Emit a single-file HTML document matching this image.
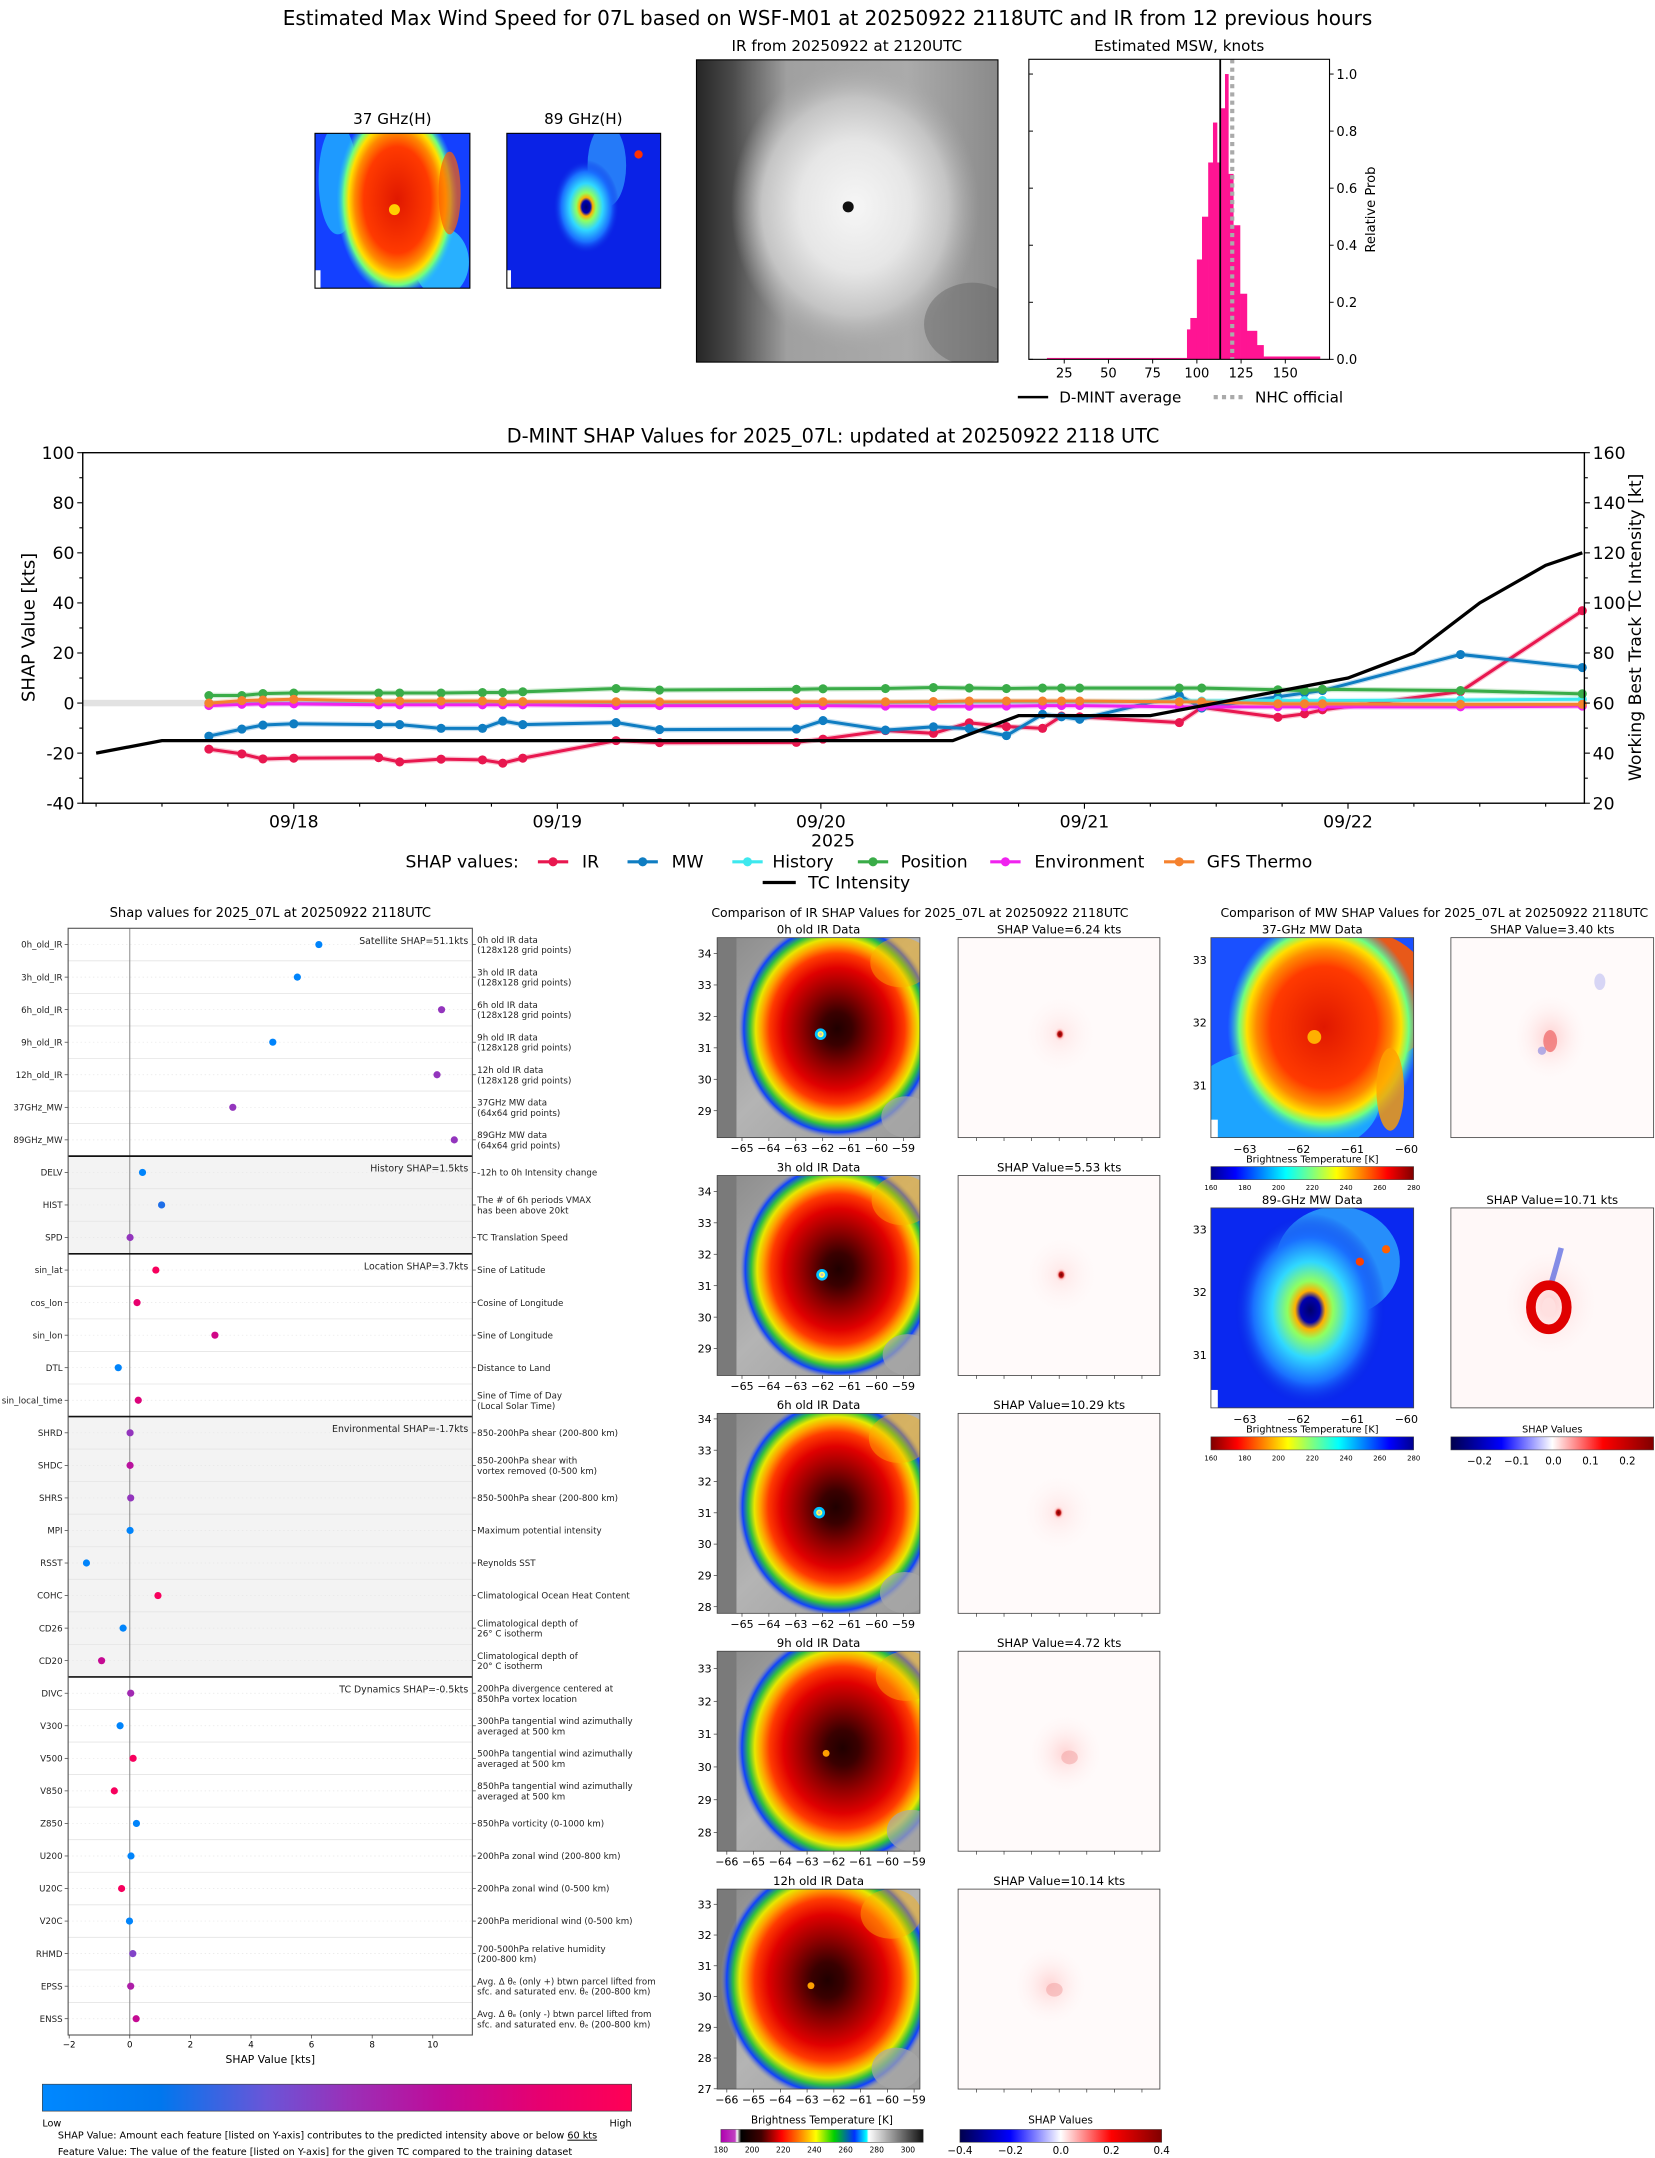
<!DOCTYPE html>
<html><head><meta charset="utf-8">
<style>
html,body{margin:0;padding:0;background:#fff;}
svg{display:block;font-family:"DejaVu Sans","Liberation Sans",sans-serif;}
</style></head>
<body>
<svg id="fig" width="1655" height="2158" viewBox="0 0 1200 1565" preserveAspectRatio="none" xmlns="http://www.w3.org/2000/svg">
<defs>
  <linearGradient id="irTopBg" x1="0" x2="1" y1="0" y2="0">
    <stop offset="0" stop-color="#262626"/><stop offset="0.12" stop-color="#4a4a4a"/><stop offset="0.3" stop-color="#a0a0a0"/><stop offset="0.7" stop-color="#ababab"/><stop offset="1" stop-color="#8a8a8a"/>
  </linearGradient>
  <radialGradient id="irTopCore">
    <stop offset="0" stop-color="#f6f6f6"/><stop offset="0.45" stop-color="#e6e6e6"/><stop offset="0.75" stop-color="#c4c4c4"/><stop offset="1" stop-color="#a8a8a8" stop-opacity="0"/>
  </radialGradient>
  <radialGradient id="mw37Core">
    <stop offset="0" stop-color="#e01800"/><stop offset="0.55" stop-color="#ff3a00"/><stop offset="0.7" stop-color="#ff8a00"/><stop offset="0.8" stop-color="#ffe000"/><stop offset="0.88" stop-color="#70ff80"/><stop offset="1" stop-color="#20c0ff" stop-opacity="0"/>
  </radialGradient>
  <radialGradient id="mw89Core">
    <stop offset="0" stop-color="#00006a"/><stop offset="0.13" stop-color="#0000b0"/><stop offset="0.2" stop-color="#ffb000"/><stop offset="0.3" stop-color="#90ff60"/><stop offset="0.5" stop-color="#30d8ff"/><stop offset="0.75" stop-color="#1a70ff"/><stop offset="1" stop-color="#0a20e0" stop-opacity="0"/>
  </radialGradient>
  <radialGradient id="irJet">
    <stop offset="0" stop-color="#200000"/><stop offset="0.15" stop-color="#3a0000"/><stop offset="0.35" stop-color="#900000"/><stop offset="0.55" stop-color="#e00000"/><stop offset="0.68" stop-color="#ff3a00"/><stop offset="0.76" stop-color="#ffa000"/><stop offset="0.82" stop-color="#e8e800"/><stop offset="0.88" stop-color="#30c040"/><stop offset="0.94" stop-color="#1040ff"/><stop offset="1" stop-color="#a0a0a0" stop-opacity="0"/>
  </radialGradient>
  <linearGradient id="irBg" x1="0" x2="1" y1="0" y2="1">
    <stop offset="0" stop-color="#8a8a8a"/><stop offset="0.5" stop-color="#b4b4b4"/><stop offset="1" stop-color="#9a9a9a"/>
  </linearGradient>
  <radialGradient id="shapDot">
    <stop offset="0" stop-color="#700000"/><stop offset="0.35" stop-color="#c01010"/><stop offset="0.6" stop-color="#ffb0b0" stop-opacity="0.5"/><stop offset="1" stop-color="#ffffff" stop-opacity="0"/>
  </radialGradient>
  <radialGradient id="shapHalo">
    <stop offset="0" stop-color="#ffd0d0"/><stop offset="1" stop-color="#ffffff" stop-opacity="0"/>
  </radialGradient>
  <linearGradient id="jetCbar" x1="0" x2="1">
    <stop offset="0" stop-color="#00008f"/><stop offset="0.12" stop-color="#0000ff"/><stop offset="0.37" stop-color="#00ffff"/><stop offset="0.5" stop-color="#7fff7f"/><stop offset="0.62" stop-color="#ffff00"/><stop offset="0.87" stop-color="#ff0000"/><stop offset="1" stop-color="#7f0000"/>
  </linearGradient>
  <linearGradient id="jetRCbar" x1="1" x2="0">
    <stop offset="0" stop-color="#00008f"/><stop offset="0.12" stop-color="#0000ff"/><stop offset="0.37" stop-color="#00ffff"/><stop offset="0.5" stop-color="#7fff7f"/><stop offset="0.62" stop-color="#ffff00"/><stop offset="0.87" stop-color="#ff0000"/><stop offset="1" stop-color="#7f0000"/>
  </linearGradient>
  <linearGradient id="bwrCbar" x1="0" x2="1">
    <stop offset="0" stop-color="#00004c"/><stop offset="0.25" stop-color="#0000ff"/><stop offset="0.5" stop-color="#ffffff"/><stop offset="0.75" stop-color="#ff0000"/><stop offset="1" stop-color="#800000"/>
  </linearGradient>
  <linearGradient id="irCbar" x1="0" x2="1">
    <stop offset="0" stop-color="#b000b0"/><stop offset="0.07" stop-color="#c040c0"/><stop offset="0.08" stop-color="#ffffff"/><stop offset="0.1" stop-color="#000000"/><stop offset="0.2" stop-color="#400000"/><stop offset="0.3" stop-color="#ff0000"/><stop offset="0.4" stop-color="#ff9000"/><stop offset="0.47" stop-color="#ffff00"/><stop offset="0.56" stop-color="#00d000"/><stop offset="0.66" stop-color="#0030ff"/><stop offset="0.72" stop-color="#00ffff"/><stop offset="0.73" stop-color="#ffffff"/><stop offset="1" stop-color="#101010"/>
  </linearGradient>
  <linearGradient id="featCbar" x1="0" x2="1">
    <stop offset="0" stop-color="#0088ff"/><stop offset="0.2" stop-color="#0077ee"/><stop offset="0.38" stop-color="#6a55d8"/><stop offset="0.52" stop-color="#9a30b8"/><stop offset="0.68" stop-color="#c00b98"/><stop offset="0.85" stop-color="#e8006e"/><stop offset="1" stop-color="#ff0055"/>
  </linearGradient>
  <clipPath id="cTop37"><rect x="228.4" y="96.7" width="112.3" height="112.3"/></clipPath>
  <clipPath id="cTop89"><rect x="367.5" y="96.7" width="111.5" height="112.3"/></clipPath>
  <clipPath id="cTopIR"><rect x="505" y="43.4" width="218.6" height="219.2"/></clipPath>
  <clipPath id="cMw37"><rect x="878" y="680" width="147" height="145"/></clipPath>
  <clipPath id="cMw89"><rect x="878" y="876" width="147" height="145"/></clipPath>
</defs>

<text x="600" y="18" text-anchor="middle" font-size="14.5">Estimated Max Wind Speed for 07L based on WSF-M01 at 20250922 2118UTC and IR from 12 previous hours</text>

<g>
  <text x="284.5" y="90" text-anchor="middle" font-size="11">37 GHz(H)</text>
  <g clip-path="url(#cTop37)">
    <rect x="228.4" y="96.7" width="112.3" height="112.3" fill="#1440ff"/>
    <ellipse cx="245" cy="130" rx="14" ry="40" fill="#20b0ff" opacity="0.8"/>
    <ellipse cx="320" cy="190" rx="20" ry="25" fill="#30e0ff" opacity="0.7"/>
    <ellipse cx="288" cy="145" rx="44" ry="70" fill="url(#mw37Core)"/>
    <ellipse cx="326" cy="140" rx="8" ry="30" fill="#ff6000" opacity="0.7"/>
    <circle cx="286" cy="152" r="4" fill="#ffd000"/>
    <rect x="228.4" y="196" width="4" height="13" fill="#fff"/>
  </g>
  <rect x="228.4" y="96.7" width="112.3" height="112.3" fill="none" stroke="#000" stroke-width="0.8"/>
</g>
<g>
  <text x="423" y="90" text-anchor="middle" font-size="11">89 GHz(H)</text>
  <g clip-path="url(#cTop89)">
    <rect x="367.5" y="96.7" width="111.5" height="112.3" fill="#0a22e6"/>
    <ellipse cx="440" cy="120" rx="14" ry="30" fill="#30a0ff" opacity="0.7"/>
    <ellipse cx="425" cy="150" rx="24" ry="34" fill="url(#mw89Core)"/>
    <circle cx="463" cy="112" r="3" fill="#ff3000"/>
    <rect x="367.5" y="196" width="3" height="13" fill="#fff"/>
  </g>
  <rect x="367.5" y="96.7" width="111.5" height="112.3" fill="none" stroke="#000" stroke-width="0.8"/>
</g>
<g>
  <text x="614" y="37" text-anchor="middle" font-size="11">IR from 20250922 at 2120UTC</text>
  <g clip-path="url(#cTopIR)">
    <rect x="505" y="43.4" width="218.6" height="219.2" fill="url(#irTopBg)"/>
    <ellipse cx="620" cy="150" rx="90" ry="105" fill="url(#irTopCore)"/>
    <ellipse cx="705" cy="235" rx="35" ry="30" fill="#5a5a5a" opacity="0.4"/>
    <circle cx="615" cy="150" r="4" fill="#101010"/>
  </g>
  <rect x="505" y="43.4" width="218.6" height="219.2" fill="none" stroke="#000" stroke-width="0.8"/>
</g>
<g id="hist"></g>

<g id="ts"></g>

<g id="feat"></g>
<g>
  <rect x="30.7" y="1511.5" width="427.3" height="19.5" fill="url(#featCbar)" stroke="#444" stroke-width="0.5"/>
  <text x="30.7" y="1542" font-size="7">Low</text>
  <text x="458" y="1542" font-size="7" text-anchor="end">High</text>
  <text x="42" y="1551" font-size="7">SHAP Value: Amount each feature [listed on Y-axis] contributes to the predicted intensity above or below <tspan text-decoration="underline">60 kts</tspan></text>
  <text x="42" y="1563" font-size="7">Feature Value: The value of the feature [listed on Y-axis] for the given TC compared to the training dataset</text>
</g>

<text x="667" y="665" text-anchor="middle" font-size="9">Comparison of IR SHAP Values for 2025_07L at 20250922 2118UTC</text>
<g id="irrows"></g>
<g>
  <text x="596" y="1540" text-anchor="middle" font-size="7.5">Brightness Temperature [K]</text>
  <rect x="522.7" y="1544.3" width="146.7" height="9.3" fill="url(#irCbar)" stroke="#444" stroke-width="0.4"/>
  <g font-size="5.5" text-anchor="middle" id="irCbTicks"></g>
</g>
<g>
  <text x="769" y="1540" text-anchor="middle" font-size="7.5">SHAP Values</text>
  <rect x="696" y="1544.3" width="146.3" height="9.3" fill="url(#bwrCbar)" stroke="#444" stroke-width="0.4"/>
  <g font-size="7.5" text-anchor="middle">
    <text x="696" y="1562">−0.4</text><text x="732.6" y="1562">−0.2</text><text x="769.2" y="1562">0.0</text><text x="805.8" y="1562">0.2</text><text x="842.3" y="1562">0.4</text>
  </g>
</g>

<text x="1040" y="665" text-anchor="middle" font-size="9">Comparison of MW SHAP Values for 2025_07L at 20250922 2118UTC</text>
<g>
  <text x="951.5" y="677" text-anchor="middle" font-size="8.5">37-GHz MW Data</text>
  <g clip-path="url(#cMw37)">
    <rect x="878" y="680" width="147" height="145" fill="#1a50ff"/>
    <ellipse cx="930" cy="800" rx="70" ry="40" fill="#20c8ff" opacity="0.7"/>
    <ellipse cx="985" cy="725" rx="55" ry="50" fill="#ff5a00" opacity="0.9"/>
    <ellipse cx="960" cy="745" rx="70" ry="80" fill="url(#mw37Core)"/>
    <ellipse cx="1008" cy="790" rx="10" ry="30" fill="#ffa000" opacity="0.8"/>
    <circle cx="953" cy="752" r="5" fill="#ffb000"/>
    <rect x="878" y="812" width="5" height="13" fill="#fff"/>
  </g>
  <rect x="878" y="680" width="147" height="145" fill="none" stroke="#444" stroke-width="0.6"/>
  <g font-size="8" text-anchor="end"><text x="875" y="699">33</text><text x="875" y="744.5">32</text><text x="875" y="790">31</text></g>
  <g font-size="8" text-anchor="middle"><text x="902.6" y="836">−63</text><text x="941.6" y="836">−62</text><text x="980.6" y="836">−61</text><text x="1019.7" y="836">−60</text></g>
  <text x="951.5" y="843" text-anchor="middle" font-size="7">Brightness Temperature [K]</text>
  <rect x="878" y="846" width="147" height="9.5" fill="url(#jetCbar)" stroke="#444" stroke-width="0.4"/>
  <g font-size="5" text-anchor="middle"><text x="878" y="863">160</text><text x="902.5" y="863">180</text><text x="927" y="863">200</text><text x="951.5" y="863">220</text><text x="976" y="863">240</text><text x="1000.5" y="863">260</text><text x="1025" y="863">280</text></g>
</g>
<g>
  <text x="1125.5" y="677" text-anchor="middle" font-size="8.5">SHAP Value=3.40 kts</text>
  <rect x="1052" y="680" width="147" height="145" fill="#fffafa" stroke="#444" stroke-width="0.6"/>
  <ellipse cx="1124" cy="752" rx="30" ry="35" fill="url(#shapHalo)"/>
  <ellipse cx="1124" cy="755" rx="5" ry="8" fill="#f07070" opacity="0.8"/>
  <ellipse cx="1118" cy="762" rx="3" ry="3" fill="#8080e0" opacity="0.6"/>
  <ellipse cx="1160" cy="712" rx="4" ry="6" fill="#b0b0f0" opacity="0.5"/>
</g>
<g>
  <text x="951.5" y="873" text-anchor="middle" font-size="8.5">89-GHz MW Data</text>
  <g clip-path="url(#cMw89)">
    <rect x="878" y="876" width="147" height="145" fill="#0a28f0"/>
    <ellipse cx="970" cy="915" rx="45" ry="40" fill="#30b0ff" opacity="0.75"/>
    <ellipse cx="950" cy="950" rx="55" ry="70" fill="url(#mw89Core)"/>
    <circle cx="986" cy="915" r="3" fill="#ff4000"/>
    <circle cx="1005" cy="906" r="3" fill="#ff6000"/>
    <rect x="878" y="1008" width="5" height="13" fill="#fff"/>
  </g>
  <rect x="878" y="876" width="147" height="145" fill="none" stroke="#444" stroke-width="0.6"/>
  <g font-size="8" text-anchor="end"><text x="875" y="894.6">33</text><text x="875" y="940">32</text><text x="875" y="985.6">31</text></g>
  <g font-size="8" text-anchor="middle"><text x="902.6" y="1032">−63</text><text x="941.6" y="1032">−62</text><text x="980.6" y="1032">−61</text><text x="1019.7" y="1032">−60</text></g>
  <text x="951.5" y="1039" text-anchor="middle" font-size="7">Brightness Temperature [K]</text>
  <rect x="878" y="1042" width="147" height="9.5" fill="url(#jetRCbar)" stroke="#444" stroke-width="0.4"/>
  <g font-size="5" text-anchor="middle"><text x="878" y="1059">160</text><text x="902.5" y="1059">180</text><text x="927" y="1059">200</text><text x="951.5" y="1059">220</text><text x="976" y="1059">240</text><text x="1000.5" y="1059">260</text><text x="1025" y="1059">280</text></g>
</g>
<g>
  <text x="1125.5" y="873" text-anchor="middle" font-size="8.5">SHAP Value=10.71 kts</text>
  <rect x="1052" y="876" width="147" height="145" fill="#fff8f8" stroke="#444" stroke-width="0.6"/>
  <ellipse cx="1124" cy="945" rx="40" ry="45" fill="url(#shapHalo)"/>
  <path d="M1132 905 Q1128 920 1125 930" stroke="#5060e0" stroke-width="4" fill="none" opacity="0.7"/>
  <ellipse cx="1123" cy="948" rx="13" ry="16" fill="none" stroke="#e00000" stroke-width="7"/>
  <ellipse cx="1123" cy="948" rx="5" ry="7" fill="#ffe0e0"/>
  <text x="1125.5" y="1039" text-anchor="middle" font-size="7">SHAP Values</text>
  <rect x="1052" y="1042" width="147" height="9.5" fill="url(#bwrCbar)" stroke="#444" stroke-width="0.4"/>
  <g font-size="7.5" text-anchor="middle"><text x="1072.8" y="1062">−0.2</text><text x="1099.6" y="1062">−0.1</text><text x="1126.4" y="1062">0.0</text><text x="1153.2" y="1062">0.1</text><text x="1180" y="1062">0.2</text></g>
</g>
</svg>

<script>
const NS = 'http://www.w3.org/2000/svg';
function mk(tag, attrs, parent) {
  const e = document.createElementNS(NS, tag);
  for (const k in attrs) e.setAttribute(k, attrs[k]);
  parent.appendChild(e);
  return e;
}
function txt(str, attrs, parent) {
  const e = mk('text', attrs, parent);
  e.textContent = str;
  return e;
}

/* ---------- Histogram data ---------- */
const histEdges = [15.2,94.4,96.3,100,102.9,106.4,109.1,111.4,113.2,115.9,117.8,120.6,124.4,128.3,134,137.7,169.6];
const histProbs = [0.005,0.105,0.145,0.35,0.5,0.69,0.83,0.69,0.88,1.0,0.65,0.47,0.23,0.1,0.05,0.01];
const histXTicks = [25,50,75,100,125,150];
const histYTicks = [0,0.2,0.4,0.6,0.8,1.0];
const dmintMean = 113.2;
const nhcOfficial = 120;

/* ---------- Time series data (days since 2025-09-17 00Z) ---------- */
const tsTimes = [0.678,0.803,0.883,1.0,1.322,1.402,1.559,1.716,1.793,1.869,2.223,2.388,2.907,3.008,3.245,3.427,3.563,3.704,3.841,3.913,3.982,4.360,4.445,4.734,4.835,4.903,5.427,5.889];
const shapIR = [-18.4,-20.3,-22.3,-22,-21.8,-23.5,-22.4,-22.7,-24,-22,-15,-15.8,-15.7,-14.4,-11,-12.1,-7.9,-9.4,-10.1,-5.2,-5.5,-7.8,-1.7,-5.7,-4.3,-2.7,4.6,36.9];
const shapMW = [-13.2,-10.4,-8.8,-8.3,-8.6,-8.6,-10.1,-10.1,-7.2,-8.6,-7.8,-10.6,-10.4,-7.0,-10.8,-9.5,-10.2,-13,-4.5,-5.5,-6.5,3,-2,2.5,4,5,19.4,14.2];
const shapHistory = [0,0,0,0,0,0,0,0,0,0,0,0,0,0,0.2,0.3,0.5,0.5,0.5,0.5,0.5,0.8,0.8,1,1,1,1.2,1.5];
const shapPosition = [3,3,3.8,4,4,4,4,4.2,4.2,4.5,5.8,5.2,5.5,5.7,5.8,6.2,6,5.8,6,6,6,6,6,5.3,5,5.5,5,3.7];
const shapEnvironment = [-1,-0.5,-0.3,-0.3,-0.7,-0.7,-0.7,-0.7,-0.7,-0.7,-1,-1,-1,-1,-1.2,-1.3,-1.3,-1.2,-1,-1,-1,-1.5,-1.5,-1.5,-1.5,-1.5,-1.5,-1.2];
const shapGFS = [0,1,1.2,1.5,0.8,0.8,0.8,0.8,0.6,0.6,0.5,0.5,0.5,0.5,0.5,0.6,0.8,0.8,0.8,0.8,0.8,0.5,0.5,-0.3,-0.3,-0.3,-0.5,-0.5];
const tcTimes = [0.25,0.5,3.5,3.75,4.0,4.25,4.5,4.75,5.0,5.25,5.5,5.75,5.889];
const tcIntensity = [40,45,45,55,55,55,60,65,70,80,100,115,120];
const tsLeftTicks = [-40,-20,0,20,40,60,80,100];
const tsRightTicks = [20,40,60,80,100,120,140,160];
const tsDateTicks = [1,2,3,4,5];
const tsDateLabels = ['09/18','09/19','09/20','09/21','09/22'];

/* ---------- Feature SHAP data ---------- */
const featNames = ['0h_old_IR','3h_old_IR','6h_old_IR','9h_old_IR','12h_old_IR','37GHz_MW','89GHz_MW','DELV','HIST','SPD','sin_lat','cos_lon','sin_lon','DTL','sin_local_time','SHRD','SHDC','SHRS','MPI','RSST','COHC','CD26','CD20','DIVC','V300','V500','V850','Z850','U200','U20C','V20C','RHMD','EPSS','ENSS'];
const featShap = [6.24,5.53,10.29,4.72,10.14,3.40,10.71,0.42,1.05,0.01,0.86,0.24,2.81,-0.38,0.28,0.01,0.01,0.03,0.01,-1.43,0.93,-0.22,-0.93,0.03,-0.32,0.11,-0.51,0.22,0.04,-0.27,-0.01,0.1,0.03,0.21];
const featValue = [0.05,0.05,0.5,0.05,0.5,0.5,0.5,0.05,0.25,0.5,0.95,0.85,0.75,0.05,0.8,0.5,0.65,0.5,0.05,0.05,0.95,0.05,0.7,0.55,0.05,0.95,0.95,0.05,0.05,0.95,0.05,0.45,0.6,0.7];
const featDesc = [
 ['0h old IR data','(128x128 grid points)'],['3h old IR data','(128x128 grid points)'],['6h old IR data','(128x128 grid points)'],
 ['9h old IR data','(128x128 grid points)'],['12h old IR data','(128x128 grid points)'],['37GHz MW data','(64x64 grid points)'],
 ['89GHz MW data','(64x64 grid points)'],['-12h to 0h Intensity change'],['The # of 6h periods VMAX','has been above 20kt'],
 ['TC Translation Speed'],['Sine of Latitude'],['Cosine of Longitude'],['Sine of Longitude'],['Distance to Land'],
 ['Sine of Time of Day','(Local Solar Time)'],['850-200hPa shear (200-800 km)'],['850-200hPa shear with','vortex removed (0-500 km)'],
 ['850-500hPa shear (200-800 km)'],['Maximum potential intensity'],['Reynolds SST'],['Climatological Ocean Heat Content'],
 ['Climatological depth of','26° C isotherm'],['Climatological depth of','20° C isotherm'],['200hPa divergence centered at','850hPa vortex location'],
 ['300hPa tangential wind azimuthally','averaged at 500 km'],['500hPa tangential wind azimuthally','averaged at 500 km'],
 ['850hPa tangential wind azimuthally','averaged at 500 km'],['850hPa vorticity (0-1000 km)'],['200hPa zonal wind (200-800 km)'],
 ['200hPa zonal wind (0-500 km)'],['200hPa meridional wind (0-500 km)'],['700-500hPa relative humidity','(200-800 km)'],
 ['Avg. Δ θₑ (only +) btwn parcel lifted from','sfc. and saturated env. θₑ (200-800 km)'],
 ['Avg. Δ θₑ (only -) btwn parcel lifted from','sfc. and saturated env. θₑ (200-800 km)']];
const groupNames = ['Satellite SHAP=51.1kts','History SHAP=1.5kts','Location SHAP=3.7kts','Environmental SHAP=-1.7kts','TC Dynamics SHAP=-0.5kts'];
const groupStart = [0,7,10,15,23];
const groupEnd = [6,9,14,22,33];
const featXTicks = [-2,0,2,4,6,8,10];

/* ---------- Histogram ---------- */
(function(){
  const g = document.getElementById('hist');
  const L=746, R=964, T=43, B=260.6;
  const hx = k => L + (k-5)*(R-L)/170;
  const hy = p => B - p*206.9;
  txt('Estimated MSW, knots', {x:855, y:37, 'text-anchor':'middle', 'font-size':11}, g);
  for (let i=0;i<histProbs.length;i++){
    const b = mk('rect',{x:hx(histEdges[i]), y:hy(histProbs[i]), width:hx(histEdges[i+1])-hx(histEdges[i])+0.2, height:B-hy(histProbs[i]), fill:'#ff1493'}, g);
    
    
  }
  const m = mk('line',{x1:hx(dmintMean),x2:hx(dmintMean),y1:T,y2:B,stroke:'#000','stroke-width':1.3}, g);
  
  
  const n = mk('line',{x1:hx(nhcOfficial),x2:hx(nhcOfficial),y1:T,y2:B,stroke:'#aaa','stroke-width':3,'stroke-dasharray':'3,3'}, g);
  
  
  mk('rect',{x:L,y:T,width:R-L,height:B-T,fill:'none',stroke:'#000','stroke-width':0.8}, g);
  histXTicks.forEach(k=>{
    mk('line',{x1:hx(k),x2:hx(k),y1:B,y2:B+3,stroke:'#000','stroke-width':0.7},g);
    const t = txt(String(k),{x:hx(k),y:B+13,'text-anchor':'middle','font-size':9.5},g);
    
  });
  histYTicks.forEach(p=>{
    mk('line',{x1:R,x2:R+3,y1:hy(p),y2:hy(p),stroke:'#000','stroke-width':0.7},g);
    mk('line',{x1:L,x2:L+3,y1:hy(p),y2:hy(p),stroke:'#000','stroke-width':0.7},g);
    const t = txt(p.toFixed(1),{x:R+5,y:hy(p)+3.5,'font-size':9.5},g);
    
  });
  const yl = txt('Relative Prob',{x:0,y:0,'text-anchor':'middle','font-size':9.5,transform:'translate(997,152) rotate(-90)'},g);
  
  mk('line',{x1:738,x2:760,y1:288,y2:288,stroke:'#000','stroke-width':1.8},g);
  const l1 = txt('D-MINT average',{x:768,y:292,'font-size':11},g);
  
  mk('line',{x1:880,x2:902,y1:288,y2:288,stroke:'#aaa','stroke-width':3,'stroke-dasharray':'3,3'},g);
  const l2 = txt('NHC official',{x:910,y:292,'font-size':11},g);
  
})();

/* ---------- Time series ---------- */
(function(){
  const g = document.getElementById('ts');
  const L=60, R=1148.8, T=328.3, B=582.5;
  const X = d => 21.9 + d*191.1;
  const Y = v => T + (100-v)*(B-T)/140;
  const YR = k => B - (k-20)*(B-T)/140;
  txt('D-MINT SHAP Values for 2025_07L: updated at 20250922 2118 UTC',{x:604,y:321,'text-anchor':'middle','font-size':14},g);
  const band = mk('rect',{x:L,y:Y(1.3),width:90,height:Y(-1.3)-Y(1.3),fill:'#e2e2e2'},g);
  
  const series = [
    ['ir',shapIR,'#e8174f'],['mw',shapMW,'#0f7dc2'],['history',shapHistory,'#3de8ee'],
    ['position',shapPosition,'#3aac48'],['environment',shapEnvironment,'#f022ef'],['gfs-thermo',shapGFS,'#f5822e']];
  series.forEach(([nm,vals,col])=>{
    const pts = tsTimes.map((t,i)=>X(t).toFixed(1)+','+Y(vals[i]).toFixed(1)).join(' ');
    mk('polyline',{points:pts,fill:'none',stroke:col,'stroke-width':4,'stroke-opacity':0.25},g);
    const pl = mk('polyline',{points:pts,fill:'none',stroke:col,'stroke-width':2.2},g);
    
    
    tsTimes.forEach((t,i)=>{
      const c = mk('circle',{cx:X(t),cy:Y(vals[i]),r:3.3,fill:col},g);
      
      
    });
  });
  const tcp = tcTimes.map((t,i)=>X(t).toFixed(1)+','+YR(tcIntensity[i]).toFixed(1)).join(' ');
  const tc = mk('polyline',{points:tcp,fill:'none',stroke:'#000','stroke-width':2.4},g);
  
  
  mk('rect',{x:L,y:T,width:R-L,height:B-T,fill:'none',stroke:'#000','stroke-width':1},g);
  for (let v=-40; v<=100; v+=10){
    const major = tsLeftTicks.indexOf(v)>=0;
    mk('line',{x1:L-(major?4:2.5),x2:L,y1:Y(v),y2:Y(v),stroke:'#000','stroke-width':0.8},g);
  }
  tsLeftTicks.forEach(v=>{
    const t = txt(String(v),{x:L-6,y:Y(v)+4.5,'text-anchor':'end','font-size':12.5},g);
    
  });
  for (let k=20;k<=160;k+=10){
    const major = tsRightTicks.indexOf(k)>=0;
    mk('line',{x1:R,x2:R+(major?4:2.5),y1:YR(k),y2:YR(k),stroke:'#000','stroke-width':0.8},g);
  }
  tsRightTicks.forEach(k=>{
    const t = txt(String(k),{x:R+6,y:YR(k)+4.5,'font-size':12.5},g);
    
  });
  for (let d=0.25; d<6; d+=0.25){
    if (X(d)<L || X(d)>R) continue;
    const major = Math.abs(d-Math.round(d))<1e-6;
    mk('line',{x1:X(d),x2:X(d),y1:B,y2:B+(major?4:2.5),stroke:'#000','stroke-width':0.8},g);
  }
  tsDateTicks.forEach((d,i)=>{
    const t = txt(tsDateLabels[i],{x:X(d),y:600,'text-anchor':'middle','font-size':12.5},g);
    
  });
  txt('2025',{x:604,y:614,'text-anchor':'middle','font-size':12.5},g);
  const yl = txt('SHAP Value [kts]',{x:0,y:0,'text-anchor':'middle','font-size':13,transform:'translate(25,455) rotate(-90)'},g);
  
  const yr = txt('Working Best Track TC Intensity [kt]',{x:0,y:0,'text-anchor':'middle','font-size':12.5,transform:'translate(1190,455) rotate(-90)'},g);
  
  txt('SHAP values:',{x:294,y:629,'font-size':12.5},g);
  const leg = [['IR',401,422,'#e8174f'],['MW',466,487,'#0f7dc2'],['History',542,560,'#3de8ee'],['Position',633,653,'#3aac48'],['Environment',729,750,'#f022ef'],['GFS Thermo',855,875,'#f5822e']];
  leg.forEach(([nm,mx,tx,col])=>{
    mk('line',{x1:mx-11,x2:mx+11,y1:625,y2:625,stroke:col,'stroke-width':2.2},g);
    mk('circle',{cx:mx,cy:625,r:3.3,fill:col},g);
    const t = txt(nm,{x:tx,y:629,'font-size':12.5},g);
    
    
  });
  mk('line',{x1:553,x2:577,y1:640,y2:640,stroke:'#000','stroke-width':2.4},g);
  const tl = txt('TC Intensity',{x:586,y:644.5,'font-size':12.5},g);
  
  
})();

/* ---------- Feature panel ---------- */
function featColor(f){
  const stops=[[0,[0,136,255]],[0.2,[0,119,238]],[0.38,[106,85,216]],[0.52,[154,48,184]],[0.68,[192,11,152]],[0.85,[232,0,110]],[1,[255,0,85]]];
  for (let i=1;i<stops.length;i++){
    if (f<=stops[i][0]){
      const a=stops[i-1], b=stops[i], t=(f-a[0])/(b[0]-a[0]);
      const c=a[1].map((v,j)=>Math.round(v+(b[1][j]-v)*t));
      return 'rgb('+c.join(',')+')';
    }
  }
  return 'rgb(255,0,85)';
}
(function(){
  const g = document.getElementById('feat');
  const L=49.4, R=342.5, T=673.2, B=1475.8;
  const FX = v => 94.1 + v*21.97;
  const step = (B-T)/featNames.length;
  const RY = i => T + step*(i+0.5);
  txt('Shap values for 2025_07L at 20250922 2118UTC',{x:196,y:665,'text-anchor':'middle','font-size':9.5},g);
  [1,3].forEach(k=>{
    mk('rect',{x:L,y:T+step*groupStart[k],width:R-L,height:step*(groupEnd[k]-groupStart[k]+1),fill:'#f3f3f3'},g);
  });
  featNames.forEach((nm,i)=>{
    mk('line',{x1:L,x2:R,y1:T+step*i,y2:T+step*i,stroke:'#e4e4e4','stroke-width':0.6},g);
    mk('line',{x1:L,x2:R,y1:RY(i),y2:RY(i),stroke:'#e6e6e6','stroke-width':0.5,'stroke-dasharray':'1,2'},g);
    mk('line',{x1:L-2.5,x2:L,y1:RY(i),y2:RY(i),stroke:'#333','stroke-width':0.5},g);
    mk('line',{x1:R,x2:R+2.5,y1:RY(i),y2:RY(i),stroke:'#333','stroke-width':0.5},g);
    const lab = txt(nm,{x:L-4,y:RY(i)+2.3,'text-anchor':'end','font-size':6.3,fill:'#222'},g);
    
    const d = featDesc[i];
    if (d.length===1){
      const t = txt(d[0],{x:R+3.5,y:RY(i)+2.3,'font-size':6.3,fill:'#222'},g);
      
    } else {
      const t = txt(d[0],{x:R+3.5,y:RY(i)-1.3,'font-size':6.3,fill:'#222'},g);
      
      const t2 = txt(d[1],{x:R+3.5,y:RY(i)+6.2,'font-size':6.3,fill:'#222'},g);
      
    }
  });
  mk('line',{x1:FX(0),x2:FX(0),y1:T,y2:B,stroke:'#888','stroke-width':0.7},g);
  groupStart.forEach((s,k)=>{
    if (k>0) mk('line',{x1:L,x2:R,y1:T+step*s,y2:T+step*s,stroke:'#111','stroke-width':1.2},g);
    const t = txt(groupNames[k],{x:R-3,y:RY(s)-0.5,'text-anchor':'end','font-size':6.8,fill:'#222'},g);
    
  });
  featShap.forEach((v,i)=>{
    const c = mk('circle',{cx:FX(v),cy:RY(i),r:2.6,fill:featColor(featValue[i])},g);
    
    
  });
  mk('rect',{x:L,y:T,width:R-L,height:B-T,fill:'none',stroke:'#555','stroke-width':0.8},g);
  featXTicks.forEach(v=>{
    mk('line',{x1:FX(v),x2:FX(v),y1:B,y2:B+2.5,stroke:'#333','stroke-width':0.5},g);
    const t = txt(v<0?'−'+(-v):String(v),{x:FX(v),y:B+9,'text-anchor':'middle','font-size':6.3},g);
    
  });
  const xl = txt('SHAP Value [kts]',{x:196,y:1496,'text-anchor':'middle','font-size':7.8},g);
  
})();

/* ---------- IR comparison rows ---------- */
const irRowTitles = ['0h old IR Data','3h old IR Data','6h old IR Data','9h old IR Data','12h old IR Data'];
const irRowShap = ['6.24','5.53','10.29','4.72','10.14'];
(function(){
  const g = document.getElementById('irrows');
  const tops = [680,852.5,1025,1197.5,1370];
  const eyes = [[595,70],[596,72],[594,72],[599,74],[588,70]];
  const latCfg = [[34,11.5,22.8,6],[34,11.5,22.8,6],[34,4,22.7,7],[33,12.5,23.8,6],[33,11,22.3,7]];
  const lonCfg = [[-65,538,19.5,7],[-65,538,19.5,7],[-65,538,19.5,7],[-66,527,19.4,8],[-66,527,19.4,8]];
  const defs = document.querySelector('defs');
  tops.forEach((top,r)=>{
    const cp = mk('clipPath',{id:'cir'+r},defs);
    mk('rect',{x:520,y:top,width:147,height:145},cp);
    const gi = mk('g',{'clip-path':'url(#cir'+r+')'},g);
    
    
    mk('rect',{x:520,y:top,width:147,height:145,fill:'url(#irBg)'},gi);
    mk('rect',{x:520,y:top,width:14,height:145,fill:'#7a7a7a'},gi);
    const ex = eyes[r][0], ey = top+eyes[r][1];
    const sc = r>=3 ? 1.08 : 1.0;
    mk('ellipse',{cx:ex+12,cy:ey-4,rx:72*sc,ry:80*sc,fill:'url(#irJet)'},gi);
    mk('ellipse',{cx:ex+58,cy:top+18,rx:22,ry:18,fill:'#ffb000',opacity:0.45},gi);
    mk('ellipse',{cx:ex+62,cy:top+130,rx:18,ry:15,fill:'#a8a8a8',opacity:0.7},gi);
    if (r<3){
      mk('circle',{cx:ex,cy:ey,r:4.2,fill:'#00c0ff'},gi);
      mk('circle',{cx:ex,cy:ey,r:2.2,fill:'#ffff60'},gi);
      mk('circle',{cx:ex,cy:ey,r:1.1,fill:'#c0c0c0'},gi);
    } else {
      mk('circle',{cx:ex,cy:ey,r:2.5,fill:'#ffa000'},gi);
    }
    mk('rect',{x:520,y:top,width:147,height:145,fill:'none',stroke:'#444','stroke-width':0.6},g);
    const tt = txt(irRowTitles[r],{x:593.5,y:top-3,'text-anchor':'middle','font-size':8.5},g);
    
    const c = latCfg[r];
    for (let k=0;k<c[3];k++){
      mk('line',{x1:517.5,x2:520,y1:top+c[1]+k*c[2],y2:top+c[1]+k*c[2],stroke:'#333','stroke-width':0.5},g);
      txt(String(c[0]-k),{x:516,y:top+c[1]+k*c[2]+3,'text-anchor':'end','font-size':8},g);
    }
    const lc = lonCfg[r];
    for (let k=0;k<lc[3];k++){
      mk('line',{x1:lc[1]+k*lc[2],x2:lc[1]+k*lc[2],y1:top+145,y2:top+147.5,stroke:'#333','stroke-width':0.5},g);
      txt('−'+String(-(lc[0]+k)),{x:lc[1]+k*lc[2],y:top+155.5,'text-anchor':'middle','font-size':8},g);
    }
    const gs = mk('g',{},g);
    
    
    mk('rect',{x:694.7,y:top,width:146.3,height:145,fill:'#fffafa',stroke:'#444','stroke-width':0.6},gs);
    const sx = ex + 173.5, sy = ey;
    mk('ellipse',{cx:sx,cy:sy,rx:30,ry:32,fill:'url(#shapHalo)',opacity:r>=3?0.9:0.5},gs);
    if (r<3) mk('ellipse',{cx:sx,cy:sy,rx:4.5,ry:5.5,fill:'url(#shapDot)'},gs);
    else mk('ellipse',{cx:sx+3,cy:sy+3,rx:6,ry:5,fill:'#f4a8a8',opacity:0.6},gs);
    const st = txt('SHAP Value='+irRowShap[r]+' kts',{x:768,y:top-3,'text-anchor':'middle','font-size':8.5},g);
    
    for (let k=0;k<7;k++){
      mk('line',{x1:708+k*20,x2:708+k*20,y1:top+145,y2:top+147.5,stroke:'#333','stroke-width':0.5},g);
    }
  });
  const cb = document.getElementById('irCbTicks');
  [180,200,220,240,260,280,300].forEach(v=>{
    txt(String(v),{x:522.7+(v-180)*1.13,y:1561},cb);
  });
})();
</script>
</body></html>
